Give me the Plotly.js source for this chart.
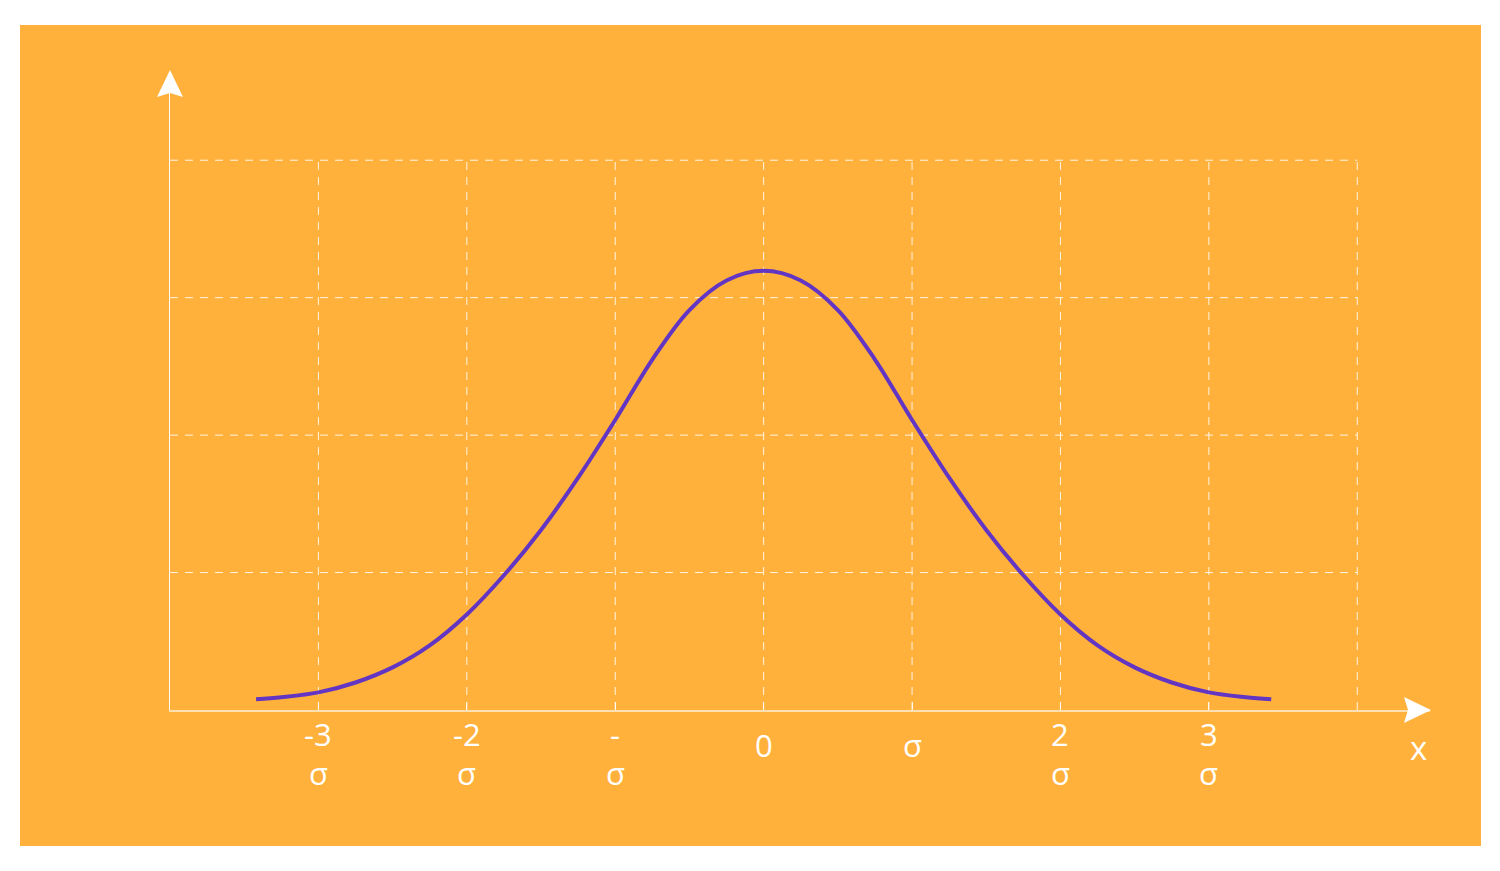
<!DOCTYPE html>
<html>
<head>
<meta charset="utf-8">
<script src="https://cdn.plot.ly/plotly-3.0.1.min.js"></script>
<style>
  html, body { margin: 0; padding: 0; background: #ffffff; }
  #chart { position: absolute; left: 20px; top: 25px; width: 1461px; height: 821px; }
</style>
</head>
<body>
<div id="chart"></div>
<script>
// Curve values (x in sigma units, y in grid units)
const curveX = [-3.42, -3.25, -3.0, -2.75, -2.5, -2.25, -2.0, -1.75, -1.5, -1.25, -1.0, -0.75, -0.5, -0.25, 0.0, 0.25, 0.5, 0.75, 1.0, 1.25, 1.5, 1.75, 2.0, 2.25, 2.5, 2.75, 3.0, 3.25, 3.42];
const curveY = [0.078, 0.093, 0.128, 0.2, 0.31, 0.47, 0.695, 0.98, 1.31, 1.69, 2.11, 2.55, 2.91, 3.125, 3.195, 3.125, 2.91, 2.55, 2.11, 1.69, 1.31, 0.98, 0.695, 0.47, 0.31, 0.2, 0.128, 0.093, 0.078];

const tickVals = [-3, -2, -1, 0, 1, 2, 3];
const tickLabels = ['-3<br>σ', '-2<br>σ', '-<br>σ', '0', 'σ', '2<br>σ', '3<br>σ'];
const gridX = [-3, -2, -1, 0, 1, 2, 3, 4];
const gridY = [1, 2, 3, 4];
const xTitle = 'x';
const yTitle = 'f (x)';

const white = '#ffffff';
const gridColor = 'rgba(255,255,255,0.85)';
const font = 'Open Sans, Noto Sans, sans-serif';

const shapes = [];
gridX.forEach(v => shapes.push({type: 'line', xref: 'x', yref: 'y', x0: v, x1: v, y0: 0, y1: 4,
  line: {color: gridColor, width: 1, dash: '8px,7px'}, layer: 'below'}));
gridY.forEach(v => shapes.push({type: 'line', xref: 'x', yref: 'y', x0: -4, x1: 4, y0: v, y1: v,
  line: {color: gridColor, width: 1, dash: '8px,7px'}, layer: 'below'}));
// arrowheads
shapes.push({type: 'path', xref: 'paper', yref: 'paper', xsizemode: 'pixel', ysizemode: 'pixel',
  xanchor: 1, yanchor: 0, path: 'M 1 0 L -26 13 L -22 0 L -26 -13 Z',
  fillcolor: white, line: {color: white, width: 0}});
shapes.push({type: 'path', xref: 'paper', yref: 'paper', xsizemode: 'pixel', ysizemode: 'pixel',
  xanchor: 0, yanchor: 1, path: 'M 0 5 L 13 -22 L 0 -18 L -13 -22 Z',
  fillcolor: white, line: {color: white, width: 0}});

const annotations = [];
tickLabels.forEach((lab, i) => {
  const parts = lab.split('<br>');
  const shifts = parts.length === 2 ? [-24, -63] : [-35];
  parts.forEach((p, j) => annotations.push({
    x: tickVals[i], y: 0, xref: 'x', yref: 'y', text: p, showarrow: false,
    xanchor: 'center', yanchor: 'middle', yshift: shifts[j],
    font: {family: font, size: 31, color: white}
  }));
});
annotations.push({x: 4.41, y: 0, xref: 'x', yref: 'y', text: xTitle, showarrow: false,
  xanchor: 'center', yanchor: 'middle', yshift: -37, font: {family: font, size: 33, color: white}});
annotations.push({x: -4.23, y: 2.07, xref: 'x', yref: 'y', text: yTitle, showarrow: false,
  textangle: -90, xanchor: 'center', yanchor: 'middle', font: {family: font, size: 31, color: white}});

const trace = {
  x: curveX, y: curveY, type: 'scatter', mode: 'lines',
  line: {color: '#6236C2', width: 4, shape: 'spline', smoothing: 1},
  hoverinfo: 'skip', cliponaxis: false
};

const layout = {
  width: 1461, height: 821,
  margin: {l: 150, r: 51, t: 50, b: 136, pad: 0},
  paper_bgcolor: '#FFB13C', plot_bgcolor: '#FFB13C',
  showlegend: false,
  xaxis: {range: [-4, 4.49], showgrid: false, zeroline: false, showline: true,
    linecolor: 'rgba(255,255,255,0.6)', linewidth: 2, ticks: 'inside', ticklen: 8, tickwidth: 1,
    tickcolor: 'rgba(255,255,255,0.85)', tickvals: tickVals, showticklabels: false, fixedrange: true},
  yaxis: {range: [0, 4.62], showgrid: false, zeroline: false, showline: true,
    linecolor: white, linewidth: 1.5, ticks: '', showticklabels: false, fixedrange: true},
  shapes: shapes,
  annotations: annotations
};

Plotly.newPlot('chart', [trace], layout, {displayModeBar: false, staticPlot: true});
</script>
</body>
</html>
